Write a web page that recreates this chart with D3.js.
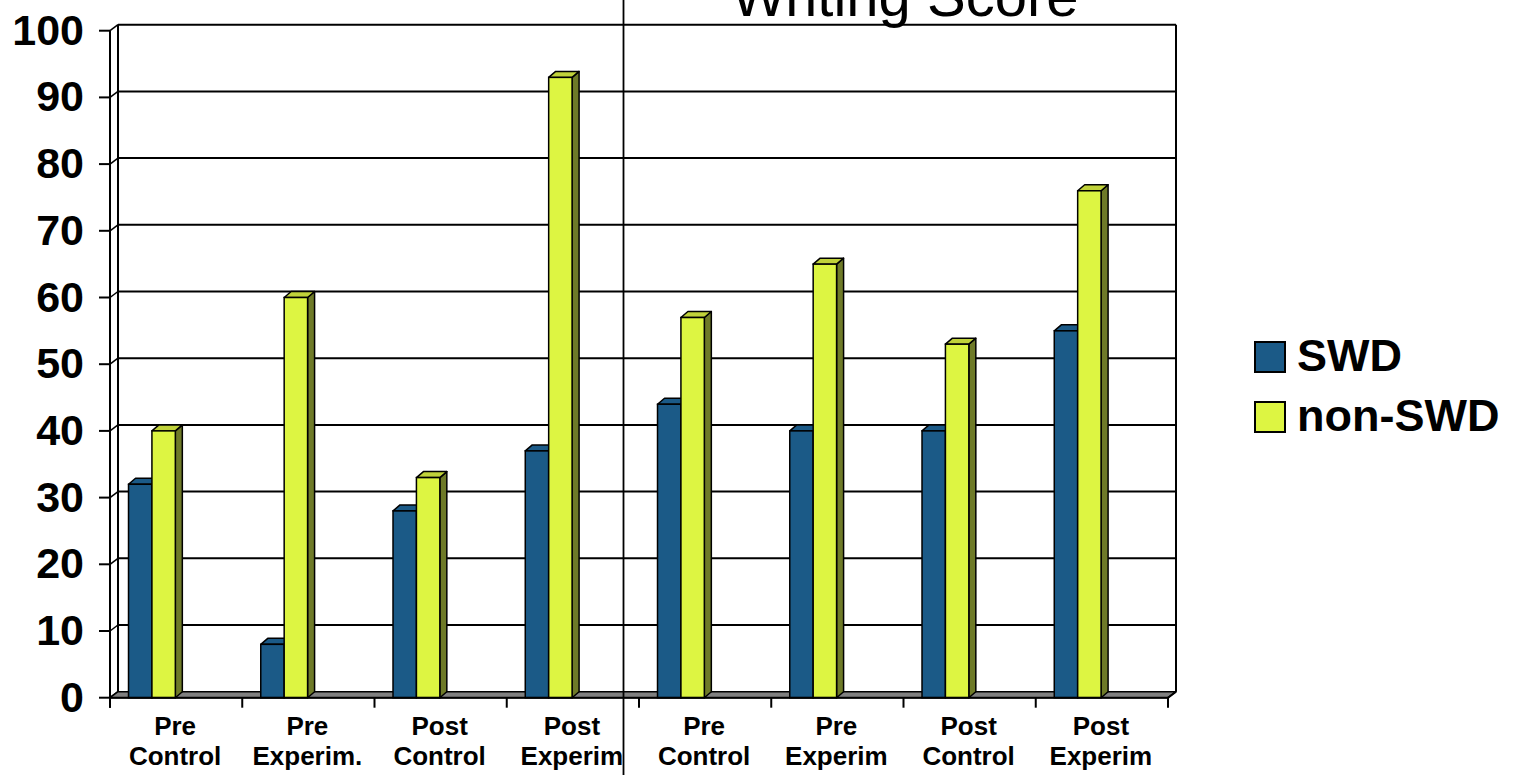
<!DOCTYPE html>
<html>
<head>
<meta charset="utf-8">
<script src="https://cdn.jsdelivr.net/npm/d3@7"></script>
<style>
  html, body { margin: 0; padding: 0; background: #ffffff; }
  svg { display: block; }
  text { font-family: "Liberation Sans", Arial, Helvetica, sans-serif; fill: #000; }
</style>
</head>
<body>
<svg id="chart" width="1518" height="775"></svg>
<script>
// Writing score by group, students with and without disabilities
const categories = [
  ["Pre", "Control"], ["Pre", "Experim."], ["Post", "Control"], ["Post", "Experim"],
  ["Pre", "Control"], ["Pre", "Experim"], ["Post", "Control"], ["Post", "Experim"]
];
const seriesNames = ["SWD", "non-SWD"];
const swd    = [32, 8, 28, 37, 44, 40, 40, 55];
const nonSwd = [40, 60, 33, 93, 57, 65, 53, 76];
const yTicks = [0, 10, 20, 30, 40, 50, 60, 70, 80, 90, 100];
const titleText = "Writing Score";

const colors = {
  SWD:       { front: "#1b5a87", top: "#1b5a87", side: "#123e5e" },
  "non-SWD": { front: "#ddf542", top: "#c0d23a", side: "#6e7a28" }
};

const svg = d3.select("#chart");

// front plane geometry
const x0 = 110, x1 = 1168;
const depthX = 8, depthY = 6;      // wall depth offset
const barDX = 7, barDY = 6;        // bar depth offset

const x = d3.scaleBand().domain(d3.range(categories.length)).range([x0, x1]).paddingInner(0).paddingOuter(0);
const y = d3.scaleLinear().domain([0, 100]).range([697.7, 30.7]);
const bw = x.bandwidth();
const barOffset = 0.14 * bw;
const barW = 0.177 * bw;

const g = svg.append("g");

// back wall gridlines + left side wall diagonals
const grid = g.append("g");
yTicks.forEach(t => {
  const yf = y(t), yb = y(t) - depthY;
  if (t > 0) {
    grid.append("line").attr("x1", x0 + depthX).attr("x2", x1 + depthX)
      .attr("y1", yb).attr("y2", yb).attr("stroke", "#000").attr("stroke-width", 2);
  }
  grid.append("line").attr("x1", x0).attr("y1", yf).attr("x2", x0 + depthX).attr("y2", yb)
    .attr("stroke", "#000").attr("stroke-width", 1.5);
});
// wall verticals
grid.append("line").attr("x1", x0 + depthX).attr("x2", x0 + depthX)
  .attr("y1", y(100) - depthY).attr("y2", y(0) - depthY).attr("stroke", "#000").attr("stroke-width", 2);
grid.append("line").attr("x1", x1 + depthX).attr("x2", x1 + depthX)
  .attr("y1", y(100) - depthY).attr("y2", y(0) - depthY).attr("stroke", "#000").attr("stroke-width", 2);

// floor
g.append("path")
  .attr("d", `M${x0},${y(0)} L${x0 + depthX},${y(0) - depthY} L${x1 + depthX},${y(0) - depthY} L${x1},${y(0)} Z`)
  .attr("fill", "#808080").attr("stroke", "#000").attr("stroke-width", 1.5).attr("stroke-linejoin", "round");

// bars
function drawBar(parent, bx, v, c) {
  const yt = y(v), yb = y(0);
  const w = barW;
  parent.append("path")
    .attr("d", `M${bx + w},${yt} L${bx + w + barDX},${yt - barDY} L${bx + w + barDX},${yb - barDY} L${bx + w},${yb} Z`)
    .attr("fill", c.side).attr("stroke", "#000").attr("stroke-width", 1.5).attr("stroke-linejoin", "round");
  parent.append("path")
    .attr("d", `M${bx},${yt} L${bx + barDX},${yt - barDY} L${bx + w + barDX},${yt - barDY} L${bx + w},${yt} Z`)
    .attr("fill", c.top).attr("stroke", "#000").attr("stroke-width", 1.5).attr("stroke-linejoin", "round");
  parent.append("rect")
    .attr("x", bx).attr("y", yt).attr("width", w).attr("height", yb - yt)
    .attr("fill", c.front).attr("stroke", "#000").attr("stroke-width", 1.5);
}

const bars = g.append("g");
categories.forEach((c, i) => {
  const bx = x(i) + barOffset;
  drawBar(bars, bx, swd[i], colors.SWD);
  drawBar(bars, bx + barW, nonSwd[i], colors["non-SWD"]);
});

// front axes
const axisG = g.append("g");
axisG.append("line").attr("x1", x0).attr("x2", x0).attr("y1", y(100)).attr("y2", y(0) + 10)
  .attr("stroke", "#000").attr("stroke-width", 2);
axisG.append("line").attr("x1", x0).attr("x2", x1).attr("y1", y(0)).attr("y2", y(0))
  .attr("stroke", "#000").attr("stroke-width", 2);
axisG.append("line").attr("x1", x1).attr("y1", y(0)).attr("x2", x1 + depthX).attr("y2", y(0) - depthY)
  .attr("stroke", "#000").attr("stroke-width", 2);

// y ticks and labels
yTicks.forEach(t => {
  axisG.append("line").attr("x1", x0 - 11).attr("x2", x0).attr("y1", y(t)).attr("y2", y(t))
    .attr("stroke", "#000").attr("stroke-width", 2);
  axisG.append("text").attr("x", 84).attr("y", y(t) + 14)
    .attr("text-anchor", "end").attr("font-size", 43).attr("font-weight", "bold")
    .text(t);
});

// x ticks and labels
d3.range(categories.length + 1).forEach(i => {
  const tx = x0 + i * bw;
  axisG.append("line").attr("x1", tx).attr("x2", tx).attr("y1", y(0)).attr("y2", y(0) + 10)
    .attr("stroke", "#000").attr("stroke-width", 2);
});
categories.forEach((c, i) => {
  const cx = x(i) + bw / 2 - 1;
  const t = axisG.append("text").attr("text-anchor", "middle").attr("font-size", 26).attr("font-weight", "bold");
  t.append("tspan").attr("x", cx).attr("y", 735).text(c[0]);
  t.append("tspan").attr("x", cx).attr("y", 765).text(c[1]);
});

// separator between the two halves
g.append("line").attr("x1", 623.5).attr("x2", 623.5).attr("y1", 0).attr("y2", 775)
  .attr("stroke", "#000").attr("stroke-width", 1.8);

// title
svg.append("text").attr("x", 905).attr("y", 16).attr("text-anchor", "middle")
  .attr("font-size", 58).text(titleText);

// legend
const legend = svg.append("g");
seriesNames.forEach((name, i) => {
  const ly = 342 + i * 60;
  legend.append("rect").attr("x", 1255).attr("y", ly).attr("width", 30).attr("height", 30)
    .attr("fill", colors[name].front).attr("stroke", "#000").attr("stroke-width", 2);
  legend.append("text").attr("x", 1297).attr("y", ly + 29).attr("font-size", 45).attr("font-weight", "bold")
    .text(name);
});
</script>
</body>
</html>
